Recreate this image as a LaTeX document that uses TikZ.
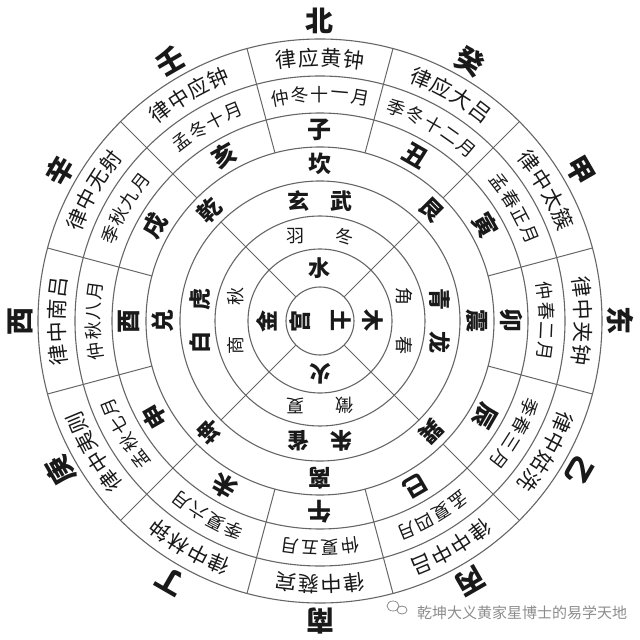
\documentclass[tikz,border=0pt]{standalone}
\usepackage{fontspec}
\setmainfont{Noto Sans CJK SC}
\usepackage{tikz}

\begin{document}
\begin{tikzpicture}[x=1pt, y=1pt,
  every node/.style = {inner sep=0pt, align=center, text=black!90},
  ring/.style = {draw=black!60, line width=1.1pt},
  spoke/.style = {draw=black!60, line width=1pt},
  lvtext/.style = {font=\fontsize{21}{21}\selectfont},
  monthtext/.style = {font=\fontsize{18}{18}\selectfont},
  zhitext/.style = {font=\fontsize{24}{24}\selectfont\bfseries},
  guatext/.style = {font=\fontsize{23}{23}\selectfont\bfseries},
  xiangtext/.style = {font=\fontsize{22}{22}\selectfont\bfseries},
  yintext/.style = {font=\fontsize{18}{18}\selectfont},
  xingtext/.style = {font=\fontsize{22}{22}\selectfont\bfseries},
  fangtext/.style = {font=\fontsize{28}{28}\selectfont\bfseries},
  marktext/.style = {font=\fontsize{15}{15}\selectfont, text=black!45}]

  \useasboundingbox (-320,-319) rectangle (320,321);

  % rings and dividers
  \foreach \r in {34,72,105,140,174,208,245,282}
    \draw[ring] (0,0) circle[radius=\r];
  \foreach \a in {45,135,225,315}
    \draw[spoke] (\a:34) -- (\a:140);
  \foreach \a in {15,45,...,345}
    \draw[spoke] (\a:174) -- (\a:282);

  % pitch pipes, one character at a time along the ring
  \foreach \a/\n/\t [count=\i] in {90/4/{律,应,黄,钟}, 60/4/{律,应,大,吕}, 30/4/{律,中,太,簇},
      0/4/{律,中,夹,钟}, -30/4/{律,中,姑,洗}, -60/4/{律,中,中,吕}, -90/4/{律,中,蕤,宾},
      -120/4/{律,中,林,钟}, -150/4/{律,中,夷,则}, 180/4/{律,中,南,吕},
      150/4/{律,中,无,射}, 120/4/{律,中,应,钟}}
    \foreach \c [count=\j] in \t {
      \pgfmathsetmacro\b{\a+(\n+1)/2*4.9-\j*4.9}
      \node[lvtext, rotate=\b-90] (lv\i-\j) at (\b:263.5) {\c};
    }

  % months
  \foreach \a/\n/\t [count=\i] in {90/5/{仲,冬,十,一,月}, 60/5/{季,冬,十,二,月}, 30/4/{孟,春,正,月},
      0/4/{仲,春,二,月}, -30/4/{季,春,三,月}, -60/4/{孟,夏,四,月}, -90/4/{仲,夏,五,月},
      -120/4/{季,夏,六,月}, -150/4/{孟,秋,七,月}, 180/4/{仲,秋,八,月},
      150/4/{季,秋,九,月}, 120/4/{孟,冬,十,月}}
    \foreach \c [count=\j] in \t {
      \pgfmathsetmacro\b{\a+(\n+1)/2*5.1-\j*5.1}
      \node[monthtext, rotate=\b-90] (yue\i-\j) at (\b:226.5) {\c};
    }

  % branches
  \foreach \a/\t [count=\i] in {90/子, 60/丑, 30/寅, 0/卯, -30/辰, -60/巳,
      -90/午, -120/未, -150/申, 180/酉, 150/戌, 120/亥}
    \node[zhitext, rotate=\a-90] (zhi\i) at (\a:191) {\t};

  % trigrams
  \foreach \a/\t [count=\i] in {90/坎, 45/艮, 0/震, -45/巽, -90/离, -135/坤, 180/兑, 135/乾}
    \node[guatext, rotate=\a-90] (gua\i) at (\a:157) {\t};

  % four symbols
  \foreach \a/\p/\q [count=\i] in {90/玄/武, 0/青/龙, -90/朱/雀, 180/白/虎} {
    \node[xiangtext, rotate=\a-90] (xa\i) at ({\a+10}:122) {\p};
    \node[xiangtext, rotate=\a-90] (xb\i) at ({\a-10}:122) {\q};
  }

  % notes and seasons
  \foreach \a/\p/\q [count=\i] in {90/羽/冬, 0/角/春, -90/徵/夏, 180/商/秋} {
    \node[yintext, rotate=\a-90] (ya\i) at ({\a+16}:88) {\p};
    \node[yintext, rotate=\a-90] (yb\i) at ({\a-16}:88) {\q};
  }

  % elements
  \foreach \a/\t [count=\i] in {90/水, 0/木, -90/火, 180/金}
    \node[xingtext, rotate=\a-90] (xing\i) at (\a:53) {\t};
  \node[xingtext, rotate=90] (gong) at (-20,0) {宫};
  \node[xingtext, rotate=-90] (tu) at (21,0) {土};

  % directions and stems
  \foreach \a/\t [count=\i] in {90/北, 60/癸, 30/甲, 0/东, -30/乙, -60/丙,
      -90/南, -120/丁, -150/庚, 180/西, 150/辛, 120/壬}
    \node[fangtext, rotate=\a-90] (fang\i) at (\a:300) {\t};

  % watermark
  \draw[black!45, line width=0.8pt] (73,-285) ellipse[x radius=6, y radius=5];
  \draw[black!45, line width=0.8pt] (82,-289) ellipse[x radius=5, y radius=4];
  \node[marktext, anchor=west] (mark) at (97,-292) {乾坤大义黄家星博士的易学天地};
\end{tikzpicture}
\end{document}
